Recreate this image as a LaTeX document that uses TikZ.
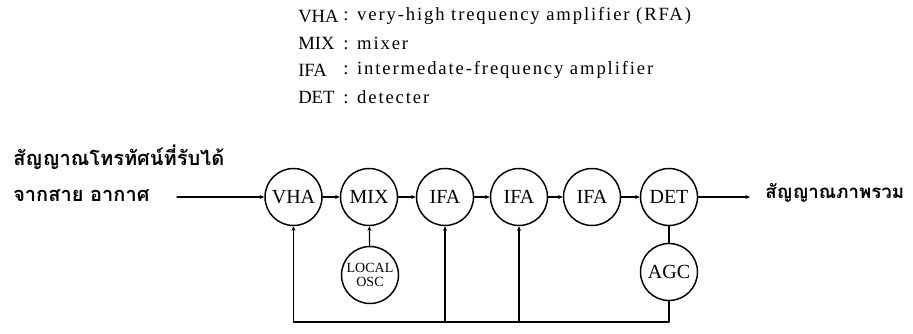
\documentclass[tikz,border=0pt]{standalone}
\usepackage{fontspec}
\setmainfont{Liberation Serif}
\newfontfamily\thaifont[Script=Thai]{Loma}
\usetikzlibrary{arrows.meta,positioning}

\begin{document}
\begin{tikzpicture}[x=0.75pt, y=-0.75pt, >={Stealth[length=3.5pt,width=3pt]}, line join=round, line cap=round,
    block/.style={draw, circle, line width=1.1pt, minimum size=42.75pt, inner sep=0pt, font=\fontsize{15}{15}\selectfont},
    wire/.style={line width=0.9pt},
    thai/.style={anchor=west, inner sep=0pt, font=\thaifont\bfseries\fontsize{15}{18}\selectfont},
    key/.style={anchor=west, inner sep=0pt, font=\fontsize{14}{16}\selectfont},
    desc/.style={anchor=west, inner sep=0pt, font=\fontsize{14}{16}\selectfont\addfontfeature{LetterSpace=10}}]
    \useasboundingbox (0,0) rectangle (913,333);
    \foreach \k/\d [count=\i] in {VHA/{very-high trequency amplifier (RFA)}, MIX/mixer, IFA/{intermedate-frequency amplifier}, DET/detecter}
    {
      \node[key] (key\i) at (298, {16+27*(\i-1)}) {\k};
      \node[desc] (desc\i) at (343, {16+27*(\i-1)}) {: \d};
    }
    \node[thai] (rx1) at (13,157) {สัญญาณโทรทัศน์ที่รับได้};
    \node[thai] (rx2) at (13,196) {จากสาย อากาศ};
    \coordinate (in) at (177,197);
    \node[block] (vha) at (293.5,197) {VHA};
    \node[block] (mix) at (369,197) {MIX};
    \node[block] (ifa1) at (445,197) {IFA};
    \node[block] (ifa2) at (519,197) {IFA};
    \node[block] (ifa3) at (592,197) {IFA};
    \node[block] (det) at (669,197) {DET};
    \node[block, font=\fontsize{10.5}{11}\selectfont, align=center] (osc) at (370,275) {LOCAL\\OSC};
    \node[block] (agc) at (669,272) {AGC};
    \coordinate (out) at (750,197);
    \node[thai, font=\thaifont\bfseries\fontsize{14}{17}\selectfont] (video) at (765,193) {สัญญาณภาพรวม};
    \coordinate (bus) at (293.5,322);
    \draw[wire,->] (in) -- (vha);
    \draw[wire,->] (vha) -- (mix);
    \draw[wire,->] (mix) -- (ifa1);
    \draw[wire,->] (ifa1) -- (ifa2);
    \draw[wire,->] (ifa2) -- (ifa3);
    \draw[wire,->] (ifa3) -- (det);
    \draw[wire,->] (det) -- (out);
    \draw[wire,->] (osc) -- (mix);
    \draw[wire] (det) -- (agc);
    \draw[wire] (agc.south) |- (bus);
    \draw[wire,->] (bus) -- (vha);
    \draw[wire,->] (bus -| ifa1) -- (ifa1);
    \draw[wire,->] (bus -| ifa2) -- (ifa2);
\end{tikzpicture}
\end{document}
